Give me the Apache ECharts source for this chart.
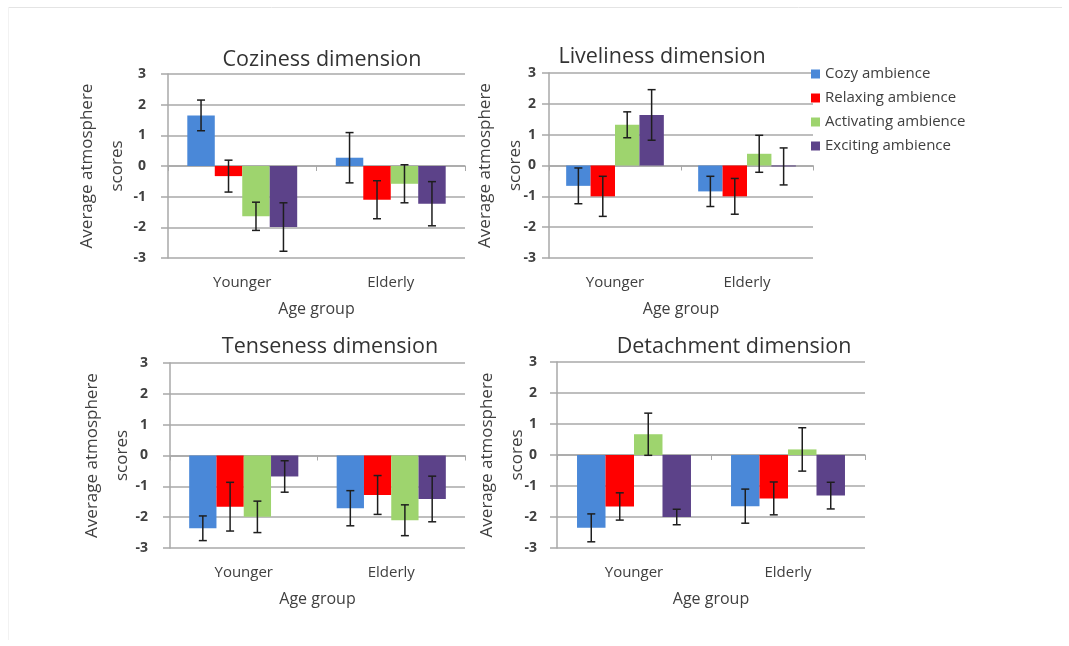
<!DOCTYPE html>
<html>
<head>
<meta charset="utf-8">
<script src="https://cdn.jsdelivr.net/npm/echarts@6/dist/echarts.min.js"></script>
<style>html,body{margin:0;padding:0;background:#fff;}#c{width:1069px;height:646px;}</style>
</head>
<body>
<div id="c"></div>
<script>
const categories = ['Younger', 'Elderly'];
const ambiences = ['Cozy ambience', 'Relaxing ambience', 'Activating ambience', 'Exciting ambience'];
const yTicks = [-3, -2, -1, 0, 1, 2, 3];
const titles = ['Coziness dimension', 'Liveliness dimension', 'Tenseness dimension', 'Detachment dimension'];

// means per ambience: [Younger, Elderly]
const cozinessMean = [[1.65, 0.27], [-0.33, -1.10], [-1.64, -0.58], [-1.99, -1.23]];
const cozinessErr = [[0.50, 0.82], [0.52, 0.62], [0.46, 0.62], [0.79, 0.72]];
const livelinessMean = [[-0.66, -0.84], [-1.00, -1.00], [1.32, 0.38], [1.64, -0.03]];
const livelinessErr = [[0.58, 0.49], [0.65, 0.58], [0.42, 0.60], [0.82, 0.60]];
const tensenessMean = [[-2.36, -1.71], [-1.66, -1.28], [-1.99, -2.10], [-0.68, -1.41]];
const tensenessErr = [[0.40, 0.57], [0.79, 0.63], [0.51, 0.50], [0.51, 0.74]];
const detachmentMean = [[-2.35, -1.65], [-1.66, -1.40], [0.67, 0.18], [-2.00, -1.31]];
const detachmentErr = [[0.45, 0.55], [0.44, 0.53], [0.68, 0.70], [0.25, 0.43]];

const means = [cozinessMean, livelinessMean, tensenessMean, detachmentMean];
const errs = [cozinessErr, livelinessErr, tensenessErr, detachmentErr];

const colors = ['#4a88d8', '#ff0000', '#9ed46e', '#5c4289'];
const FONT = 'Open Sans';
const TXT = '#404040';
const GRID_C = '#a8a8a8';
const CAT_GAP = 0.26;

const grids = [
  {left: 168, top: 74, width: 297, height: 184},
  {left: 549, top: 73, width: 264, height: 185},
  {left: 170, top: 363, width: 295, height: 185},
  {left: 557, top: 362, width: 308, height: 186}
];
const titlePos = [[317, 44], [657, 41], [325, 331], [729, 331]];
const labelMargins = [22, 13, 22, 20];
const nameGaps = [36, 19, 33, 25];

const xAxes = [], yAxes = [], series = [], titleArr = [];
grids.forEach((g, p) => {
  titleArr.push({
    text: titles[p], left: titlePos[p][0], top: titlePos[p][1], textAlign: 'center',
    textStyle: {fontFamily: FONT, fontSize: 21.5, fontWeight: 'normal', color: '#333'}
  });
  xAxes.push({
    type: 'category', gridIndex: p, data: categories, position: 'bottom',
    axisLine: {show: false, onZero: false}, axisTick: {show: false}, splitLine: {show: false},
    axisLabel: {fontFamily: FONT, fontSize: 15, color: TXT, margin: 17},
    name: 'Age group', nameLocation: 'middle', nameGap: 43, nameMoveOverlap: false,
    nameTextStyle: {fontFamily: FONT, fontSize: 16, color: TXT}
  });
  xAxes.push({
    type: 'category', gridIndex: p, data: categories, position: 'bottom',
    axisLine: {show: true, onZero: true, lineStyle: {color: GRID_C, width: 1.5}},
    axisTick: {show: true, length: 5, lineStyle: {color: GRID_C, width: 1}},
    axisLabel: {show: false}, splitLine: {show: false}
  });
  yAxes.push({
    type: 'value', gridIndex: p, min: -3, max: 3, interval: 1,
    axisLine: {show: true, lineStyle: {color: GRID_C, width: 1.5}},
    axisTick: {show: true, length: 7, lineStyle: {color: GRID_C, width: 1.5}},
    splitLine: {show: true, lineStyle: {color: GRID_C, width: 1.5}},
    axisLabel: {fontFamily: FONT, fontSize: 14, fontWeight: 'bold', color: TXT, margin: labelMargins[p],
      formatter: v => yTicks.includes(v) ? String(v) : ''},
    name: 'Average atmosphere\nscores', nameLocation: 'middle', nameRotate: 90, nameGap: nameGaps[p],
    nameMoveOverlap: false,
    nameTextStyle: {fontFamily: FONT, fontSize: 17, color: TXT, lineHeight: 30}
  });
  ambiences.forEach((a, s) => {
    series.push({
      type: 'bar', name: a, xAxisIndex: p * 2, yAxisIndex: p,
      data: means[p][s], barGap: '0%', barCategoryGap: (CAT_GAP * 100) + '%',
      itemStyle: {color: colors[s]}, z: 2
    });
  });
  const ed = [];
  ambiences.forEach((a, s) => {
    categories.forEach((c, ci) => ed.push([ci, s, means[p][s][ci], errs[p][s][ci]]));
  });
  series.push({
    type: 'custom', xAxisIndex: p * 2, yAxisIndex: p, data: ed, z: 5,
    encode: {x: 0, y: 2},
    renderItem: function (params, api) {
      const ci = api.value(0), si = api.value(1), m = api.value(2), e = api.value(3);
      const band = api.size([1, 0])[0];
      const bw = band * (1 - CAT_GAP) / 4;
      const top = api.coord([ci, m + e]);
      const bot = api.coord([ci, m - e]);
      const x = top[0] + (si - 1.5) * bw;
      const cap = 4;
      const st = {stroke: '#1e1e1e', lineWidth: 1.5};
      return {type: 'group', children: [
        {type: 'line', shape: {x1: x, y1: top[1], x2: x, y2: bot[1]}, style: st},
        {type: 'line', shape: {x1: x - cap, y1: top[1], x2: x + cap, y2: top[1]}, style: st},
        {type: 'line', shape: {x1: x - cap, y1: bot[1], x2: x + cap, y2: bot[1]}, style: st}
      ]};
    }
  });
});

const chart = echarts.init(document.getElementById('c'), null, {renderer: 'canvas'});
chart.setOption({
  backgroundColor: '#fff',
  animation: false,
  title: titleArr,
  legend: {
    data: ambiences, orient: 'vertical', left: 806, top: 60,
    icon: 'rect', itemWidth: 9, itemHeight: 9, itemGap: 6, itemStyle: {borderWidth: 0},
    textStyle: {fontFamily: FONT, fontSize: 15, color: TXT, lineHeight: 18}
  },
  grid: grids,
  xAxis: xAxes,
  yAxis: yAxes,
  series: series,
  graphic: [
    {type: 'line', shape: {x1: 8, y1: 7.5, x2: 1062, y2: 7.5}, style: {stroke: '#e4e4e4', lineWidth: 1}, silent: true},
    {type: 'line', shape: {x1: 8.5, y1: 7, x2: 8.5, y2: 640}, style: {stroke: '#f2f2f2', lineWidth: 1}, silent: true}
  ]
});
</script>
</body>
</html>
